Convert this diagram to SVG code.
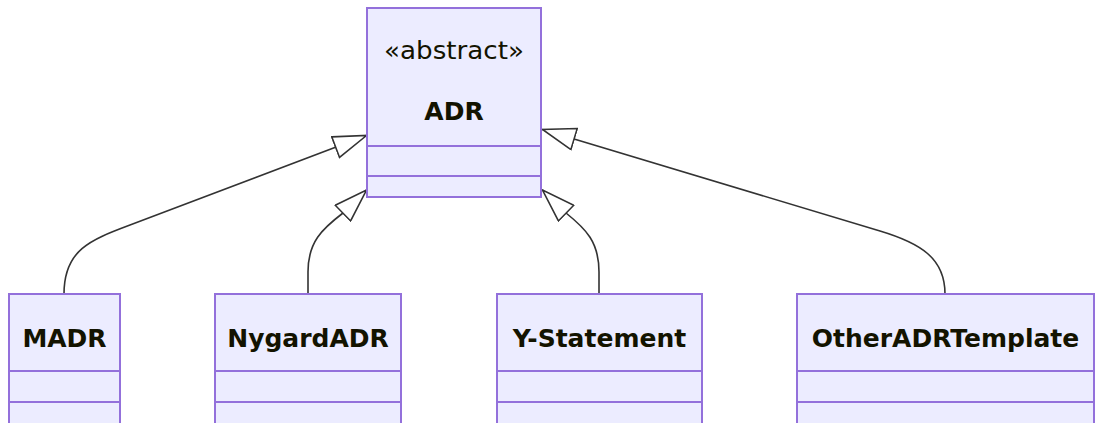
<svg xmlns="http://www.w3.org/2000/svg" width="1095" height="423" viewBox="0 0 1095 423">
<style>
.box{fill:#ECECFF;stroke:#9370DB;stroke-width:2}
.div{stroke:#9370DB;stroke-width:2}
.t{font-family:"DejaVu Sans",sans-serif;font-size:25px;font-weight:bold;fill:#131300;text-anchor:middle}
.s{font-family:"DejaVu Sans",sans-serif;font-size:25px;fill:#131300;text-anchor:middle}
.edge{fill:none;stroke:#333;stroke-width:1.6;marker-end:url(#ext)}
</style>
<defs>
<marker id="ext" markerUnits="userSpaceOnUse" markerWidth="36" markerHeight="24" viewBox="-1 -1 36 24" refX="33" refY="11" orient="auto">
<path d="M0,0 L33,11 L0,22 Z" fill="#fff" stroke="#333" stroke-width="1.6"/>
</marker>
</defs>
<rect width="1095" height="423" fill="#fff"/>
<g id="connectors">
<path class="edge" d="M64,294 C64,250 90,240 130,225 L366.5,135.5"/>
<path class="edge" d="M308,294 L308,272 C308,242 322,229 343,213 L366.5,190"/>
<path class="edge" d="M599,294 L599,272 C599,242 586,229 566,213 L542.5,190"/>
<path class="edge" d="M945,294 C945,258 920,243 880,231 L542.5,129.5"/>
</g>
<g id="ADR">
<rect class="box" x="367" y="8" width="174" height="189"/>
<line class="div" x1="367" y1="146" x2="541" y2="146"/>
<line class="div" x1="367" y1="176" x2="541" y2="176"/>
<text class="s" x="454" y="59" textLength="140" lengthAdjust="spacingAndGlyphs">«abstract»</text>
<text class="t" x="454" y="120">ADR</text>
</g>
<g id="MADR">
<rect class="box" x="9" y="294" width="111" height="140"/>
<line class="div" x1="9" y1="371" x2="120" y2="371"/>
<line class="div" x1="9" y1="402" x2="120" y2="402"/>
<text class="t" x="64.5" y="347">MADR</text>
</g>
<g id="NygardADR">
<rect class="box" x="215" y="294" width="186" height="140"/>
<line class="div" x1="215" y1="371" x2="401" y2="371"/>
<line class="div" x1="215" y1="402" x2="401" y2="402"/>
<text class="t" x="308" y="347">NygardADR</text>
</g>
<g id="Y-Statement">
<rect class="box" x="497" y="294" width="205" height="140"/>
<line class="div" x1="497" y1="371" x2="702" y2="371"/>
<line class="div" x1="497" y1="402" x2="702" y2="402"/>
<text class="t" x="599.5" y="347">Y-Statement</text>
</g>
<g id="OtherADRTemplate">
<rect class="box" x="797" y="294" width="297" height="140"/>
<line class="div" x1="797" y1="371" x2="1094" y2="371"/>
<line class="div" x1="797" y1="402" x2="1094" y2="402"/>
<text class="t" x="945.5" y="347">OtherADRTemplate</text>
</g>
</svg>
